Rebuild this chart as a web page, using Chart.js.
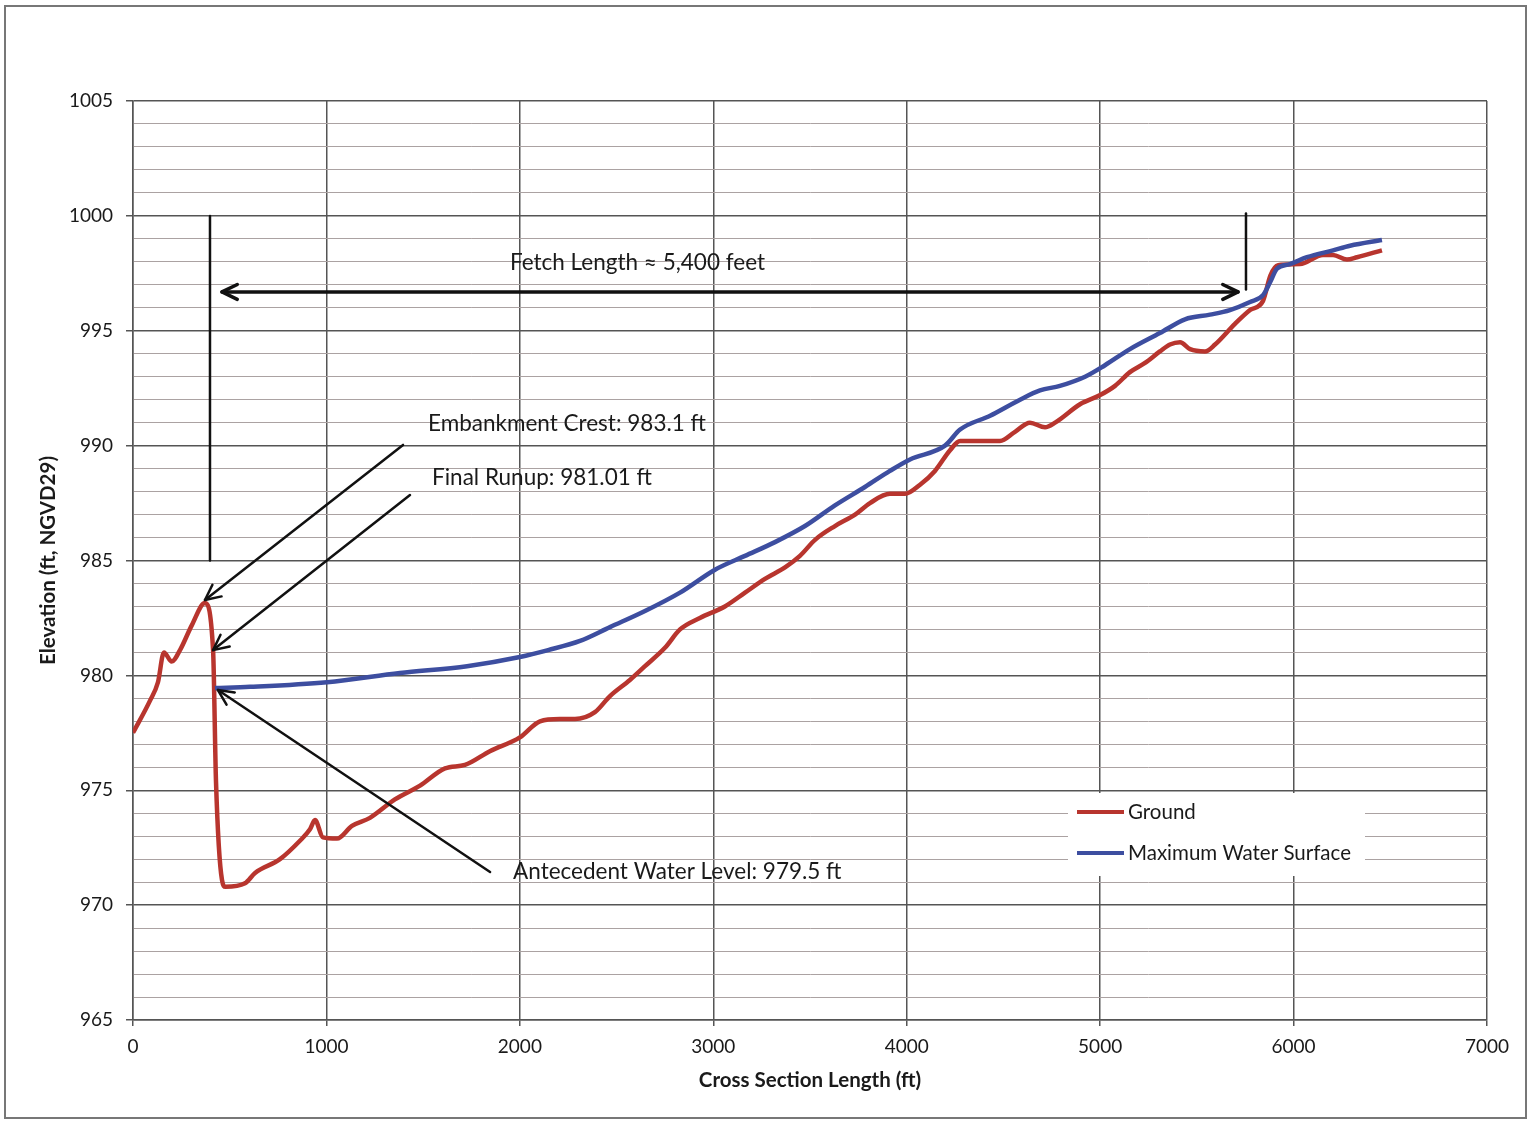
<!DOCTYPE html>
<html>
<head>
<meta charset="utf-8">
<script src="https://cdn.jsdelivr.net/npm/chart.js@4.4.1/dist/chart.umd.min.js"></script>
<style>
  html, body { margin: 0; padding: 0; background: #fff; }
  #wrap { position: absolute; left: 0; top: 0; width: 1530px; height: 1122px; }
</style>
</head>
<body>
<div id="wrap"><canvas id="profileChart" width="1530" height="1122"></canvas></div>
<script>
// Ground profile (ft along section, elevation ft NGVD29)
const groundX = [0, 88, 129, 160, 200, 243, 305, 372, 414, 429, 460, 478, 579, 631, 760, 863, 915, 941, 982, 1055,
  1132, 1225, 1354, 1484, 1613, 1716, 1845, 2000, 2104, 2207, 2285, 2388, 2466, 2569, 2647, 2750, 2828, 2931, 3060,
  3164, 3267, 3371, 3448, 3526, 3629, 3733, 3810, 3913, 3991, 4069, 4146, 4224, 4276, 4353, 4482, 4560, 4637, 4715,
  4767, 4896, 5000, 5077, 5154, 5232, 5309, 5361, 5413, 5465, 5542, 5594, 5697, 5775, 5842, 5880, 5920, 6033, 6152,
  6204, 6276, 6328, 6457];
const groundY = [977.5, 978.9, 979.7, 981.0, 980.6, 981.1, 982.2, 983.15, 981.1, 975.4, 971.1, 970.8, 970.95, 971.4,
  972.0, 972.8, 973.3, 973.7, 972.95, 972.9, 973.45, 973.8, 974.6, 975.2, 975.95, 976.1, 976.7, 977.3, 978.0, 978.1,
  978.1, 978.4, 979.1, 979.8, 980.4, 981.2, 982.0, 982.5, 983.0, 983.6, 984.2, 984.7, 985.2, 985.9, 986.5, 987.0,
  987.5, 987.9, 987.9, 988.3, 988.9, 989.8, 990.2, 990.2, 990.2, 990.6, 991.0, 990.8, 991.0, 991.8, 992.2, 992.6,
  993.2, 993.6, 994.1, 994.4, 994.5, 994.2, 994.1, 994.4, 995.3, 995.9, 996.3, 997.4, 997.85, 997.9, 998.3, 998.3,
  998.1, 998.2, 998.5];

// Maximum water surface
const waterX = [424, 605, 1003, 1380, 1727, 2000, 2146, 2311, 2466, 2647, 2828, 3009, 3164, 3319, 3474, 3629, 3784,
  3913, 4017, 4198, 4276, 4431, 4586, 4689, 4792, 4922, 5025, 5154, 5309, 5439, 5568, 5671, 5775, 5842, 5878, 5914,
  5981, 6069, 6204, 6292, 6457];
const waterY = [979.45, 979.5, 979.7, 980.1, 980.4, 980.8, 981.1, 981.5, 982.1, 982.8, 983.6, 984.6, 985.2, 985.8,
  986.5, 987.4, 988.2, 988.9, 989.4, 990.0, 990.7, 991.3, 992.0, 992.4, 992.6, 993.0, 993.5, 994.2, 994.9, 995.5,
  995.7, 995.9, 996.25, 996.55, 997.1, 997.7, 997.9, 998.2, 998.5, 998.7, 998.95];

const seriesNames = ['Ground', 'Maximum Water Surface'];
const seriesColors = ['#b8352e', '#3d4ea0'];

// Annotations in data units
const fetchBars = [
  { x: 398, y1: 1000, y2: 985 },
  { x: 5754, y1: 1000.1, y2: 996.8 }
];
const fetchArrow = { x1: 460, x2: 5713, y: 996.69 };
const calloutArrows = [
  { fromX: 1396, fromY: 990.03, toX: 372, toY: 983.28 },
  { fromX: 1432, fromY: 987.85, toX: 414, toY: 981.1 },
  { fromX: 1846, fromY: 971.44, toX: 439, toY: 979.36 }
];
const calloutTexts = [
  { text: 'Fetch Length \u2248 5,400 feet', x: 1949, y: 997.95 },
  { text: 'Embankment Crest: 983.1 ft', x: 1525, y: 990.94 },
  { text: 'Final Runup: 981.01 ft', x: 1546, y: 988.59 },
  { text: 'Antecedent Water Level: 979.5 ft', x: 1965, y: 971.44 }
];

const FONT = 'Lato, "Open Sans", sans-serif';

function toPts(xs, ys) {
  return xs.map((x, i) => ({ x: x, y: ys[i] }));
}

function arrowHead(ctx, fx, fy, tx, ty, len) {
  const a = Math.atan2(ty - fy, tx - fx);
  ctx.beginPath();
  ctx.moveTo(tx - len * Math.cos(a - 0.45), ty - len * Math.sin(a - 0.45));
  ctx.lineTo(tx, ty);
  ctx.lineTo(tx - len * Math.cos(a + 0.45), ty - len * Math.sin(a + 0.45));
  ctx.stroke();
}

const framePlugin = {
  id: 'frame',
  beforeDraw(chart) {
    const ctx = chart.ctx;
    ctx.save();
    ctx.fillStyle = '#fff';
    ctx.fillRect(0, 0, chart.width, chart.height);
    ctx.strokeStyle = '#777';
    ctx.lineWidth = 2;
    ctx.strokeRect(5, 6, 1521, 1112);
    ctx.restore();
  }
};

const notesPlugin = {
  id: 'notes',
  afterDatasetsDraw(chart) {
    const ctx = chart.ctx;
    const xs = chart.scales.x, ys = chart.scales.y;
    ctx.save();
    ctx.strokeStyle = '#111';
    ctx.lineCap = 'round';
    ctx.lineJoin = 'round';

    // fetch limit bars
    ctx.lineWidth = 2.5;
    fetchBars.forEach(b => {
      const px = xs.getPixelForValue(b.x);
      ctx.beginPath();
      ctx.moveTo(px, ys.getPixelForValue(b.y1));
      ctx.lineTo(px, ys.getPixelForValue(b.y2));
      ctx.stroke();
    });

    // double-headed fetch arrow
    ctx.lineWidth = 3.5;
    const ax1 = xs.getPixelForValue(fetchArrow.x1);
    const ax2 = xs.getPixelForValue(fetchArrow.x2);
    const ay = ys.getPixelForValue(fetchArrow.y);
    ctx.beginPath();
    ctx.moveTo(ax1, ay);
    ctx.lineTo(ax2, ay);
    ctx.stroke();
    arrowHead(ctx, ax2, ay, ax1, ay, 17);
    arrowHead(ctx, ax1, ay, ax2, ay, 17);

    // callout arrows
    ctx.lineWidth = 2.5;
    calloutArrows.forEach(a => {
      const fx = xs.getPixelForValue(a.fromX), fy = ys.getPixelForValue(a.fromY);
      const tx = xs.getPixelForValue(a.toX), ty = ys.getPixelForValue(a.toY);
      ctx.beginPath();
      ctx.moveTo(fx, fy);
      ctx.lineTo(tx, ty);
      ctx.stroke();
      arrowHead(ctx, fx, fy, tx, ty, 17);
    });

    // texts
    ctx.fillStyle = '#1a1a1a';
    ctx.font = '22.5px ' + FONT;
    ctx.textAlign = 'left';
    ctx.textBaseline = 'middle';
    calloutTexts.forEach(t => {
      ctx.fillText(t.text, xs.getPixelForValue(t.x), ys.getPixelForValue(t.y));
    });
    ctx.restore();
  },
  afterDraw(chart) {
    // legend box inside the plot
    const ctx = chart.ctx;
    ctx.save();
    ctx.fillStyle = '#fff';
    ctx.fillRect(1068, 793, 297, 83);
    ctx.font = '20.5px ' + FONT;
    ctx.textBaseline = 'middle';
    ctx.textAlign = 'left';
    seriesNames.forEach((name, i) => {
      const y = 812 + i * 41;
      ctx.strokeStyle = seriesColors[i];
      ctx.lineWidth = 4;
      ctx.beginPath();
      ctx.moveTo(1077, y);
      ctx.lineTo(1124, y);
      ctx.stroke();
      ctx.fillStyle = '#1a1a1a';
      ctx.fillText(name, 1128, y);
    });
    ctx.restore();
  }
};

const ctx = document.getElementById('profileChart').getContext('2d');
new Chart(ctx, {
  type: 'scatter',
  data: {
    datasets: [
      {
        label: seriesNames[0],
        data: toPts(groundX, groundY),
        showLine: true,
        borderColor: seriesColors[0],
        borderWidth: 4.5,
        pointRadius: 0,
        tension: 0.3,
        cubicInterpolationMode: 'monotone',
        order: 1
      },
      {
        label: seriesNames[1],
        data: toPts(waterX, waterY),
        showLine: true,
        borderColor: seriesColors[1],
        borderWidth: 4.5,
        pointRadius: 0,
        tension: 0.3,
        cubicInterpolationMode: 'monotone',
        order: 0
      }
    ]
  },
  options: {
    responsive: false,
    animation: false,
    layout: { padding: { left: 0, right: 43, top: 101, bottom: 0 } },
    plugins: {
      legend: { display: false },
      tooltip: { enabled: false }
    },
    scales: {
      x: {
        type: 'linear',
        min: 0,
        max: 7000,
        afterFit: s => { s.height = 102; },
        ticks: {
          stepSize: 1000,
          color: '#1a1a1a',
          font: { family: FONT, size: 19 },
          padding: 9,
          maxRotation: 0,
          callback: v => String(v)
        },
        grid: { color: '#555', lineWidth: 1.5, tickLength: 6, tickColor: '#555' },
        border: { color: '#555', width: 1.5 },
        title: {
          display: true,
          text: 'Cross Section Length (ft)',
          color: '#1a1a1a',
          font: { family: FONT, size: 20.5, weight: 'bold' },
          padding: { top: 0, bottom: 29 }
        }
      },
      y: {
        type: 'linear',
        min: 965,
        max: 1005,
        afterFit: s => { s.width = 133; },
        afterBuildTicks: s => {
          const t = [];
          for (let v = 965; v <= 1005; v++) t.push({ value: v });
          s.ticks = t;
        },
        ticks: {
          autoSkip: false,
          color: '#1a1a1a',
          font: { family: FONT, size: 19 },
          padding: 13,
          callback: v => (v % 5 === 0 ? String(v) : '')
        },
        grid: {
          color: c => (c.tick && c.tick.value % 5 === 0 ? '#555' : '#aba2a2'),
          lineWidth: c => (c.tick && c.tick.value % 5 === 0 ? 1.5 : 1),
          tickLength: 7,
          tickColor: c => (c.tick && c.tick.value % 5 === 0 ? '#555' : 'rgba(0,0,0,0)')
        },
        border: { color: '#555', width: 1.5 },
        title: {
          display: true,
          text: 'Elevation (ft, NGVD29)',
          color: '#1a1a1a',
          font: { family: FONT, size: 20.5, weight: 'bold' },
          padding: { top: 36, bottom: 0 }
        }
      }
    }
  },
  plugins: [framePlugin, notesPlugin]
});
</script>
</body>
</html>
